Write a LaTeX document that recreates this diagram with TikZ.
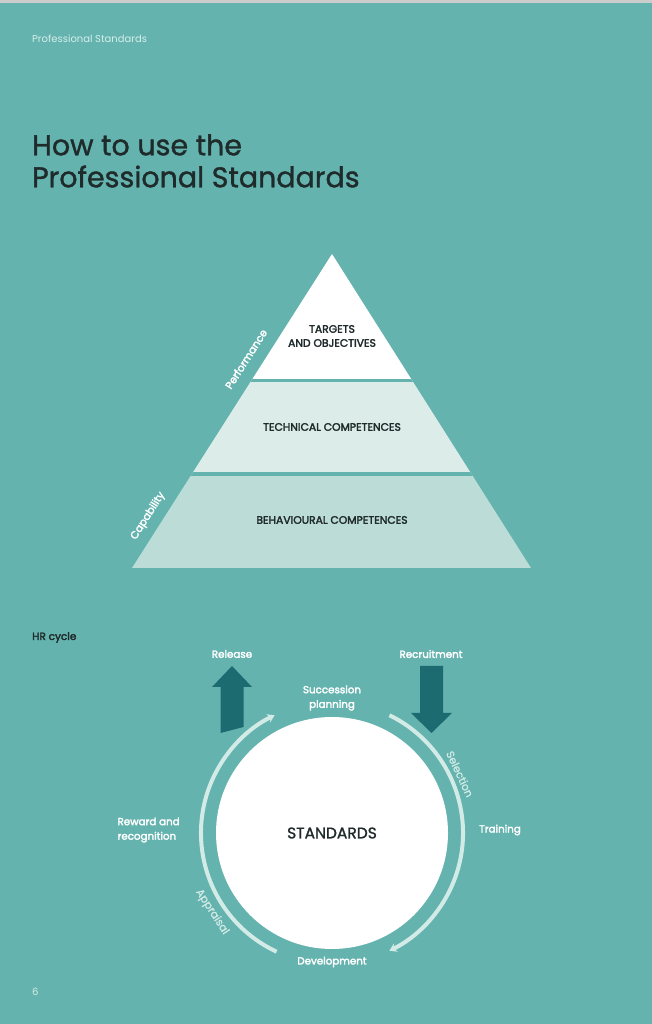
\documentclass[tikz,border=0pt]{standalone}
\usepackage{fontspec}
\setmainfont{Poppins}
\newfontfamily\mediumfont{Poppins}[FakeBold=1.2]
\newfontfamily\labelfont{Poppins}[FakeBold=2.6]
\usetikzlibrary{arrows.meta}
\definecolor{pagebg}{HTML}{64B3AE}
\definecolor{inktext}{HTML}{1F2A2A}
\definecolor{arrowdark}{HTML}{1C6B70}
\definecolor{tiermid}{HTML}{DCEDE9}
\definecolor{tierlow}{HTML}{BCDDD7}
\definecolor{arcline}{HTML}{D2EBE7}
\definecolor{softtext}{HTML}{D5EEEA}

\begin{document}
\begin{tikzpicture}[x=1pt,y=1pt,
    tierlabel/.style={font=\labelfont\fontsize{10.8}{14}\selectfont, text=inktext, align=center},
    sidelabel/.style={font=\labelfont\fontsize{10.5}{12}\selectfont, text=white},
    cyclelabel/.style={font=\labelfont\fontsize{10.3}{14.5}\selectfont, text=white, align=center},
    arclabel/.style={font=\mediumfont\fontsize{10.8}{12}\selectfont, text=arcline},
    cyclearc/.style={arcline, line width=4pt, -{Stealth[length=7pt,width=9pt]}}]
    % Fixed Bounding Box for the page
    \useasboundingbox (0,0) rectangle (652,1024);
    \fill[pagebg] (0,0) rectangle (652,1024);
    \fill[black!20] (0,1021) rectangle (652,1024);

    % Header and title
    \node[anchor=base west, font=\fontsize{10}{12}\selectfont, text=softtext, inner sep=0pt] (header) at (32,981) {Professional Standards};
    \node[anchor=north west, font=\mediumfont\fontsize{28.5}{32}\selectfont, text=inktext, align=left, inner sep=0pt] (title) at (32,890) {How to use the\\Professional Standards};

    % Pyramid
    \def\pyramid{(332,770) -- (531,456) -- (132,456) -- cycle}
    \begin{scope}
        \clip \pyramid;
        \fill[white] (100,643.5) rectangle (560,780);
        \fill[tiermid] (100,550) rectangle (560,643.5);
        \fill[tierlow] (100,450) rectangle (560,550);
        \fill[pagebg] (100,642) rectangle (560,645);
        \fill[pagebg] (100,548) rectangle (560,552);
    \end{scope}
    \node[tierlabel] (targets) at (332,688) {TARGETS\\AND OBJECTIVES};
    \node[tierlabel] (technical) at (332,597) {TECHNICAL COMPETENCES};
    \node[tierlabel] (behavioural) at (332,504) {BEHAVIOURAL COMPETENCES};
    \node[sidelabel, rotate=57.5] (performance) at (246,665) {Performance};
    \node[sidelabel, rotate=57.5] (capability) at (148,508) {Capability};

    % HR cycle
    \node[anchor=base west, font=\labelfont\fontsize{10.5}{12}\selectfont, text=inktext, inner sep=0pt] (hrcycle) at (32,384) {HR cycle};
    \node[circle, fill=white, minimum size=232pt, inner sep=0pt, font=\mediumfont\fontsize{15.5}{18}\selectfont, text=inktext] (standards) at (332,191) {STANDARDS};
    \draw[cyclearc] ([shift={(245:131)}]standards.center) arc[start angle=245, end angle=116, radius=131];
    \draw[cyclearc] ([shift={(64:131)}]standards.center) arc[start angle=64, end angle=-64, radius=131];

    % Release and recruitment arrows
    \fill[arrowdark] (232,358) -- (252,337) -- (243.5,337) -- (243.5,297) -- (220.5,291) -- (220.5,337) -- (212,337) -- cycle;
    \fill[arrowdark] (420,358) -- (443,358) -- (443,311) -- (452,311) -- (431.5,291) -- (411,311) -- (420,311) -- cycle;

    \node[cyclelabel] (release) at (232,370) {Release};
    \node[cyclelabel] (recruitment) at (431,370) {Recruitment};
    \node[cyclelabel] (succession) at (332,326) {Succession\\planning};
    \node[cyclelabel, align=left, anchor=west] (reward) at (114,194) {Reward and\\recognition};
    \node[cyclelabel] (training) at (500,194) {Training};
    \node[cyclelabel] (development) at (332,62) {Development};
    \node[arclabel, rotate=-65] (selection) at (460,250) {Selection};
    \node[arclabel, rotate=-57] (appraisal) at (212,112) {Appraisal};

    \node[anchor=base west, font=\fontsize{10}{12}\selectfont, text=softtext, inner sep=0pt] (pagenum) at (32,28) {6};
\end{tikzpicture}
\end{document}
